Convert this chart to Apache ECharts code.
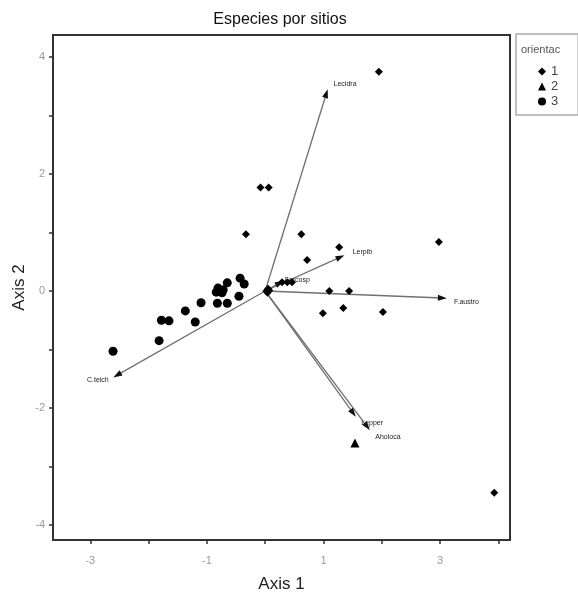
<!DOCTYPE html>
<html>
<head>
<meta charset="utf-8">
<script src="https://cdn.jsdelivr.net/npm/echarts@6/dist/echarts.min.js"></script>
<style>html,body{margin:0;padding:0;background:#fff}#c{width:578px;height:595px}</style>
</head>
<body>
<div id="c"></div>
<script>
// ---- data ----
const group1 = [
  [1.95, 3.75], [-0.08, 1.77], [0.06, 1.77], [-0.33, 0.97], [0.62, 0.97],
  [0.72, 0.53], [1.27, 0.75], [2.98, 0.84], [0.29, 0.15], [0.38, 0.15],
  [0.46, 0.15], [1.10, 0.0], [1.44, 0.0], [0.99, -0.38], [1.34, -0.29],
  [2.02, -0.36], [3.93, -3.45], [0.02, 0.0], [0.07, 0.01], [0.04, -0.03], [0.05, 0.04]
];
const group2 = [[1.54, -2.6]];
const group3 = [
  [-2.61, -1.03], [-1.82, -0.85], [-1.78, -0.50], [-1.65, -0.51], [-1.37, -0.34],
  [-1.20, -0.53], [-1.10, -0.20], [-0.82, -0.21], [-0.65, -0.21], [-0.45, -0.09],
  [-0.65, 0.14], [-0.81, 0.05], [-0.74, -0.03], [-0.72, 0.02], [-0.84, -0.02],
  [-0.43, 0.22], [-0.36, 0.12]
];
const vectorNames = ['Lecidra', 'Lerpib', 'Sarcosp', 'F.austro', 'C.teich', 'Lepper', 'Aholoca'];
const vectorX = [1.05, 1.29, 0.25, 3.04, -2.54, 1.51, 1.75];
const vectorY = [3.38, 0.58, 0.14, -0.12, -1.44, -2.09, -2.32];
const xTicks = [-3, -2, -1, 0, 1, 2, 3, 4];
const xTickLabels = [-3, -1, 1, 3];
const yTicks = [-4, -3, -2, -1, 0, 1, 2, 3, 4];
const yTickLabels = [-4, -2, 0, 2, 4];
const groupNames = ['1', '2', '3'];

// ---- styles ----
const labelStyle = {
  'Lecidra': {position: 'right', offset: [-2, -9]},
  'Lerpib': {position: 'right', offset: [2, -5]},
  'Sarcosp': {position: 'right', offset: [-6, -3]},
  'F.austro': {position: 'right', offset: [2, 4]},
  'C.teich': {position: 'left', offset: [2, 5]},
  'Lepper': {position: 'right', offset: [-2, 10]},
  'Aholoca': {position: 'right', offset: [-2, 10]}
};
const FONT = '"Liberation Sans", Arial, sans-serif';

const chart = echarts.init(document.getElementById('c'), null, {renderer: 'canvas'});

const lineData = vectorNames.map((n, i) => ({name: n, coords: [[0, 0], [vectorX[i], vectorY[i]]]}));
const headData = vectorNames.map((n, i) => {
  const ang = Math.atan2(vectorY[i], vectorX[i]) * 180 / Math.PI;
  return {name: n, value: [vectorX[i], vectorY[i]], symbolRotate: ang - 90,
    label: Object.assign({show: true, formatter: n}, labelStyle[n])};
});

chart.setOption({
  animation: false,
  backgroundColor: '#fff',
  textStyle: {fontFamily: FONT},
  title: {
    text: 'Especies por sitios', left: 275, top: 7, textAlign: 'center',
    textStyle: {fontSize: 16, fontWeight: 'normal', color: '#111', fontFamily: FONT}
  },
  grid: {left: 53, right: 68, top: 35, bottom: 55, outerBoundsMode: 'none', containLabel: false,
    show: true, borderColor: '#333', borderWidth: 2, backgroundColor: 'transparent'},
  xAxis: {
    type: 'value', min: -3.64, max: 4.2,
    name: 'Axis 1', nameLocation: 'middle', nameGap: 36, nameMoveOverlap: false,
    nameTextStyle: {fontSize: 17, color: '#222', fontFamily: FONT},
    axisLine: {show: true, onZero: false, lineStyle: {color: '#333', width: 2}},
    axisTick: {show: true, customValues: xTicks, length: 4, lineStyle: {color: '#333', width: 1.5}},
    axisLabel: {customValues: xTickLabels, fontSize: 11, color: '#999', margin: 15, fontFamily: FONT},
    splitLine: {show: false}
  },
  yAxis: {
    type: 'value', min: -4.26, max: 4.38,
    name: 'Axis 2', nameLocation: 'middle', nameGap: 25, nameRotate: 90, nameMoveOverlap: false,
    nameTextStyle: {fontSize: 17, color: '#222', fontFamily: FONT},
    axisLine: {show: true, onZero: false, lineStyle: {color: '#333', width: 2}},
    axisTick: {show: true, customValues: yTicks, length: 4, lineStyle: {color: '#333', width: 1.5}},
    axisLabel: {customValues: yTickLabels, fontSize: 11, color: '#999', margin: 8, fontFamily: FONT},
    splitLine: {show: false}
  },
  legend: {
    orient: 'vertical', left: 516, top: 34,
    data: groupNames,
    padding: [31, 20, 7, 22], itemGap: 2,
    itemWidth: 8, itemHeight: 8,
    borderColor: '#aaa', borderWidth: 1.5,
    textStyle: {fontSize: 13, color: '#444', fontFamily: FONT}
  },
  graphic: [{
    type: 'text', left: 521, top: 44,
    style: {text: 'orientac', fontSize: 11, fill: '#555', fontFamily: FONT}
  }],
  series: [
    {
      type: 'lines', coordinateSystem: 'cartesian2d', silent: true, z: 2,
      lineStyle: {color: '#707070', width: 1.3, opacity: 1},
      data: lineData
    },
    {
      type: 'scatter', name: 'heads', symbol: 'triangle', symbolSize: [6, 9], z: 3,
      itemStyle: {color: '#111', opacity: 1},
      label: {fontSize: 7, color: '#222', fontFamily: FONT},
      data: headData
    },
    {name: groupNames[0], type: 'scatter', symbol: 'diamond', symbolSize: 8, itemStyle: {color: '#000', opacity: 1}, data: group1, z: 4},
    {name: groupNames[1], type: 'scatter', symbol: 'triangle', symbolSize: 9, itemStyle: {color: '#000', opacity: 1}, data: group2, z: 4},
    {name: groupNames[2], type: 'scatter', symbol: 'circle', symbolSize: 9, itemStyle: {color: '#000', opacity: 1}, data: group3, z: 4}
  ]
});
</script>
</body>
</html>
